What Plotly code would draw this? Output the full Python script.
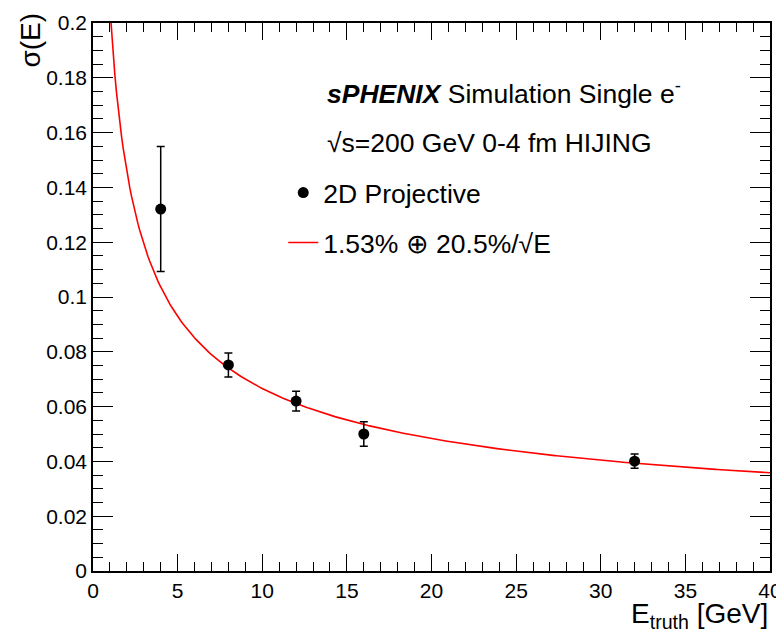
import numpy as np
import plotly.graph_objects as go

# measured points (2D projective)
e_truth = [4, 8, 12, 16, 32]
sigma_e = [0.1321, 0.0752, 0.0620, 0.0500, 0.0401]
sigma_err = [0.0228, 0.0044, 0.0036, 0.0045, 0.0026]

# fit parameters: constant term and stochastic term
fit_const = 0.0153
fit_stoch = 0.205
fit_range = (1.0, 40.0)

FONT = "Liberation Sans, Arial, Helvetica, sans-serif"

e_fit = np.linspace(fit_range[0], fit_range[1], 400)
sig_fit = np.sqrt(fit_const ** 2 + fit_stoch ** 2 / e_fit)

fig = go.Figure()

fig.add_trace(go.Scatter(
    x=e_fit, y=sig_fit, mode="lines",
    line=dict(color="red", width=1.6),
    name="1.53% ⊕ 20.5%/√E",
    legend="legend2",
))

fig.add_trace(go.Scatter(
    x=e_truth, y=sigma_e, mode="markers",
    marker=dict(color="black", size=11),
    error_y=dict(type="data", array=sigma_err, color="black",
                 thickness=1.5, width=4),
    name="2D Projective",
    legend="legend",
))

axis_common = dict(
    showgrid=False, zeroline=False, automargin=False,
    showline=True, linecolor="black", linewidth=1.5, mirror="ticks",
    ticks="inside", tickcolor="black", tickwidth=1.3,
    tickfont=dict(family=FONT, size=21, color="black"),
)

fig.update_xaxes(range=[0, 40], dtick=5, ticklen=17,
                 minor=dict(ticks="inside", dtick=1, ticklen=9,
                            tickcolor="black", tickwidth=1.3),
                 **axis_common)
fig.update_yaxes(range=[0, 0.2], dtick=0.02, ticklen=20,
                 minor=dict(ticks="inside", dtick=0.005, ticklen=10,
                            tickcolor="black", tickwidth=1.3),
                 **axis_common)

txt = dict(family=FONT, size=26.5, color="black")

# the page adds an 8px body margin, so the figure is sized to fit inside it
fig.update_layout(
    width=776, height=628,
    margin=dict(l=85, r=14, t=15, b=65),
    paper_bgcolor="white", plot_bgcolor="white",
    showlegend=True,
    legend=dict(x=0.281, y=0.690, xanchor="left", yanchor="middle",
                font=txt, bgcolor="rgba(0,0,0,0)"),
    legend2=dict(x=0.281, y=0.599, xanchor="left", yanchor="middle",
                 font=txt, bgcolor="rgba(0,0,0,0)"),
    annotations=[
        dict(x=0.343, y=0.874, xref="paper", yref="paper",
             xanchor="left", yanchor="middle", showarrow=False,
             text="<b><i>sPHENIX</i></b> Simulation Single e<sup>-</sup>",
             font=txt),
        dict(x=0.343, y=0.781, xref="paper", yref="paper",
             xanchor="left", yanchor="middle", showarrow=False,
             text="√s=200 GeV 0-4 fm HIJING", font=txt),
        dict(x=1.0, y=-0.045, xref="paper", yref="paper",
             xanchor="right", yanchor="top", showarrow=False,
             text="E<sub>truth</sub> [GeV]",
             font=dict(family=FONT, size=28, color="black")),
        dict(x=-0.093, y=1.022, xref="paper", yref="paper",
             xanchor="center", yanchor="top", showarrow=False,
             textangle=-90, text="σ(E)",
             font=dict(family=FONT, size=28, color="black")),
    ],
)

fig.write_html("out.html")
